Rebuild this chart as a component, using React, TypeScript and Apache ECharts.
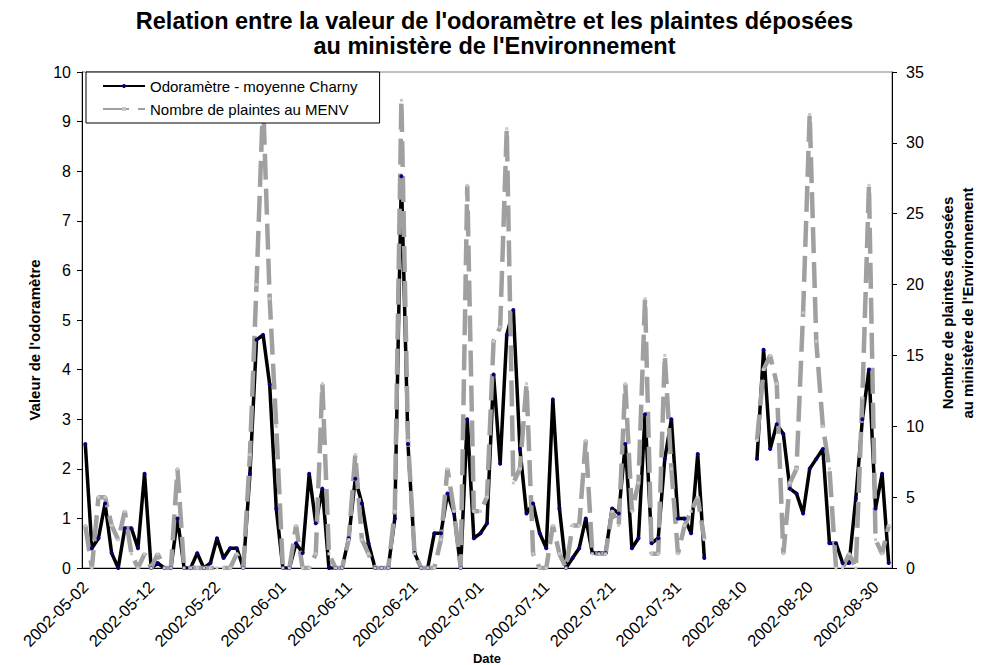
import { useEffect, useRef } from "react";
import * as echarts from "echarts";

// Odoramètre - moyenne Charny (left axis), one value per day from 2002-05-02
const odorametre: (number | null)[] = [
  2.5, 0.4, 0.6, 1.3, 0.3, 0, 0.8, 0.8, 0.4, 1.9,
  0, 0.1, 0, 0, 1.0, 0, 0, 0.3, 0, 0.1,
  0.6, 0.2, 0.4, 0.4, 0, 1.9, 4.6, 4.7, 3.7, 1.2,
  0, 0, 0.5, 0.3, 1.9, 0.9, 1.6, 0, 0, 0,
  0.6, 1.8, 1.3, 0.5, 0, 0, 0, 1.0, 7.9, 2.5,
  0.3, 0, 0, 0.7, 0.7, 1.5, 1.1, 0, 3.0, 0.6,
  0.7, 0.9, 3.9, 2.1, 4.7, 5.2, 2.4, 1.1, 1.3, 0.7,
  0.4, 3.4, 1.2, 0, 0.2, 0.4, 1.0, 0.3, 0.3, 0.3,
  1.2, 1.1, 2.5, 0.4, 0.6, 3.1, 0.5, 0.6, 2.2, 3.0,
  1.0, 1.0, 0.7, 2.3, 0.2, null, null, null, null, null,
  null, null, 2.2, 4.4, 2.4, 2.9, 2.7, 1.6, 1.5, 1.1,
  2.0, 2.2, 2.4, 0.5, 0.5, 0.1, 0.1, 1.4, 3.0, 4.0,
  1.2, 1.9, 0.1,
];

// Nombre de plaintes au MENV (right axis)
const plaintes: (number | null)[] = [
  3, 0, 5, 5, 3, 2, 4, 1, 0, 1,
  0, 1, 0, 0, 7, 0, 0, 0, 0, 0,
  0, 0, 0, 1, 0, 8, 20, 33, 19, 10,
  0, 0, 3, 0, 0, 1, 13, 1, 0, 0,
  2, 8, 2, 1, 0, 0, 0, 4, 33, 9,
  1, 0, 0, 0, 2, 7, 4, 0, 27, 4,
  4, 5, 16, 17, 31, 6, 7, 13, 1, 0,
  0, 3, 1, 0, 3, 3, 9, 1, 1, 1,
  4, 3, 13, 4, 6, 19, 1, 1, 15, 7,
  1, 3, 4, 5, 2, null, null, null, null, null,
  null, null, 9, 14, 15, 13, 1, 6, 7, 18,
  32, 16, 10, 7, 0, 0, 1, 0, 12, 27,
  2, 1, 3,
];

const START_DAY = Date.UTC(2002, 4, 2);
const dates: string[] = odorametre.map((_, i) =>
  new Date(START_DAY + i * 86400000).toISOString().slice(0, 10)
);

const FONT = "'Liberation Sans', Arial, sans-serif";

export default function App() {
  const ref = useRef<HTMLDivElement>(null);
  useEffect(() => {
    document.body.style.margin = "0";
    const chart = echarts.init(ref.current!, null, { renderer: "svg" });
    chart.setOption({
      animation: false,
      backgroundColor: "#fff",
      textStyle: { fontFamily: FONT, color: "#000" },
      title: {
        text: "Relation entre la valeur de l'odoramètre et les plaintes déposées\nau ministère de l'Environnement",
        left: "center",
        top: 3,
        textStyle: { fontFamily: FONT, fontSize: 23.5, fontWeight: "bold", color: "#000", lineHeight: 25 },
      },
      legend: {
        orient: "vertical",
        left: 86,
        top: 72,
        backgroundColor: "#fff",
        borderColor: "#000",
        borderWidth: 1,
        borderRadius: 0,
        padding: [5, 22, 5, 16],
        itemWidth: 42,
        itemHeight: 5,
        itemGap: 5,
        textStyle: { fontFamily: FONT, fontSize: 15, color: "#000", lineHeight: 18 },
        data: ["Odoramètre - moyenne Charny", "Nombre de plaintes au MENV"],
      },
      grid: {
        left: 82,
        right: 97,
        top: 72,
        bottom: 97,
        containLabel: false,
        outerBoundsMode: "none",
        show: true,
        borderColor: "#808080",
        borderWidth: 1,
        backgroundColor: "transparent",
      },
      xAxis: {
        type: "category",
        data: dates,
        boundaryGap: true,
        name: "Date",
        nameLocation: "middle",
        nameGap: 84,
        nameMoveOverlap: false,
        nameTextStyle: {
          fontFamily: FONT,
          fontSize: 13,
          fontWeight: "bold",
          color: "#000",
          verticalAlign: "top",
        },
        axisLine: { lineStyle: { color: "#000", width: 1 } },
        axisTick: { interval: 9, length: 5, lineStyle: { color: "#000" } },
        axisLabel: {
          interval: 9,
          rotate: 45,
          margin: 16,
          fontFamily: FONT,
          fontSize: 16.5,
          color: "#000",
        },
        splitLine: { show: false },
      },
      yAxis: [
        {
          type: "value",
          min: 0,
          max: 10,
          interval: 1,
          position: "left",
          name: "Valeur de l'odoramètre",
          nameLocation: "middle",
          nameRotate: 90,
          nameGap: 40,
          nameTextStyle: {
            fontFamily: FONT,
            fontSize: 15,
            fontWeight: "bold",
            color: "#000",
            padding: [0, 40, 0, 0],
          },
          axisLine: { show: true, lineStyle: { color: "#000", width: 1 } },
          axisTick: { show: true, length: 5, lineStyle: { color: "#000" } },
          axisLabel: { margin: 11, fontFamily: FONT, fontSize: 16, color: "#000" },
          splitLine: { show: false },
        },
        {
          type: "value",
          min: 0,
          max: 35,
          interval: 5,
          position: "right",
          name: "Nombre de plaintes déposées\nau ministère de l'Environnement",
          nameLocation: "middle",
          nameRotate: 90,
          nameGap: 45,
          nameTextStyle: {
            fontFamily: FONT,
            fontSize: 15,
            fontWeight: "bold",
            color: "#000",
            lineHeight: 20,
            padding: [0, 0, 0, 34],
          },
          axisLine: { show: true, lineStyle: { color: "#000", width: 1 } },
          axisTick: { show: true, length: 5, lineStyle: { color: "#000" } },
          axisLabel: { margin: 14, fontFamily: FONT, fontSize: 16, color: "#000" },
          splitLine: { show: false },
        },
      ],
      series: [
        {
          name: "Odoramètre - moyenne Charny",
          type: "line",
          yAxisIndex: 0,
          data: odorametre,
          connectNulls: false,
          symbol: "circle",
          symbolSize: 4,
          showSymbol: true,
          lineStyle: { color: "#000", width: 3.5 },
          itemStyle: { color: "#000080", borderWidth: 0 },
          emphasis: { disabled: true },
        },
        {
          name: "Nombre de plaintes au MENV",
          type: "line",
          yAxisIndex: 1,
          data: plaintes,
          connectNulls: false,
          symbol: "rect",
          symbolSize: 3,
          showSymbol: true,
          lineStyle: { color: "#A0A0A0", width: 4.5, type: [26, 9] },
          itemStyle: { color: "#C8C8C8", borderWidth: 0 },
          emphasis: { disabled: true },
        },
      ],
    });
    return () => chart.dispose();
  }, []);
  return (
    <div
      ref={ref}
      style={{ position: "fixed", left: 0, top: 0, width: 989, height: 665 }}
    />
  );
}
